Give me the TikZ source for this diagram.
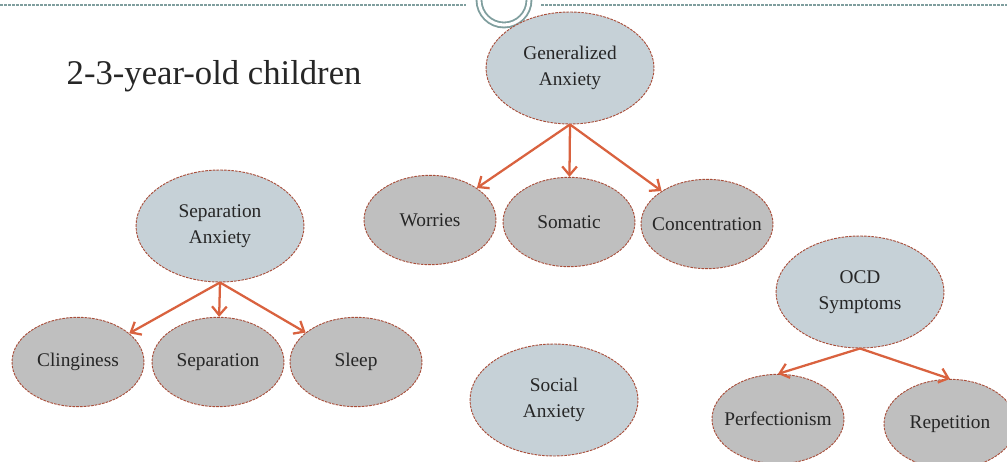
\documentclass[tikz,border=0pt]{standalone}
\usepackage{fontspec}
\setmainfont{Liberation Serif}
\usepackage{xcolor}
\usepackage{tikz}
\usetikzlibrary{arrows.meta, shapes.geometric}

\definecolor{parentfill}{HTML}{C6D1D7}
\definecolor{leaffill}{HTML}{BFBFBF}
\definecolor{rim}{HTML}{A94E3A}
\definecolor{arrowc}{HTML}{D9623F}
\definecolor{rulec}{HTML}{7F9E9E}

\begin{document}
\begin{tikzpicture}[
  x=0.75pt, y=-0.75pt,
  every label/.style={align=center, font=\fontsize{14.5}{19.5}\selectfont, text=black!85},
  parent/.style={ellipse, draw=rim, dashed, dash pattern=on 2pt off 0.8pt, line width=0.7pt, fill=parentfill, minimum width=126pt, minimum height=84pt, inner sep=0pt},
  leaf/.style={ellipse, draw=rim, dashed, dash pattern=on 2pt off 0.8pt, line width=0.7pt, fill=leaffill, minimum width=99pt, minimum height=67pt, inner sep=0pt},
  arr/.style={-{Straight Barb[length=6.5pt, width=11pt]}, line width=1.7pt, draw=arrowc},
]
\useasboundingbox (0,0) rectangle (1007,461);

% header rule and ring
\draw[rulec, dashed, dash pattern=on 2pt off 1pt, line width=0.9pt] (0,5) -- (466,5);
\draw[rulec, dashed, dash pattern=on 2pt off 1pt, line width=0.9pt] (541,5) -- (1007,5);
\draw[rulec, line width=1.4pt, double=white, double distance=2.3pt] (504,0) circle[radius=25];

\node[anchor=west, font=\fontsize{26}{30}\selectfont, text=black!85] (title) at (62,76) {2-3-year-old children};

% Generalized anxiety
\node[parent, label=center:{Generalized\\Anxiety}] (gen) at (570,68) {};
\node[leaf, label=center:Worries] (wor) at (430,220) {};
\node[leaf, label=center:Somatic] (som) at (569,222) {};
\node[leaf, label=center:Concentration] (con) at (707,224) {};
\draw[arr] (gen.south) -- (wor);
\draw[arr] (gen.south) -- (som);
\draw[arr] (gen.south) -- (con);

% Separation anxiety
\node[parent, label=center:{Separation\\Anxiety}] (sep) at (220,226) {};
\node[leaf, label=center:Clinginess] (cli) at (78,362) {};
\node[leaf, label=center:Separation] (spr) at (218,362) {};
\node[leaf, label=center:Sleep] (slp) at (356,362) {};
\draw[arr] (sep.south) -- (cli);
\draw[arr] (sep.south) -- (spr);
\draw[arr] (sep.south) -- (slp);

% Social anxiety
\node[parent, label=center:{Social\\Anxiety}] (soc) at (554,400) {};

% OCD
\node[parent, label=center:{OCD\\Symptoms}] (ocd) at (860,292) {};
\node[leaf, label=center:Perfectionism] (per) at (778,419) {};
\node[leaf, label=center:Repetition] (rep) at (950,424) {};
\draw[arr] (ocd.south) -- (per.north);
\draw[arr] (ocd.south) -- (rep.north);

\end{tikzpicture}
\end{document}
